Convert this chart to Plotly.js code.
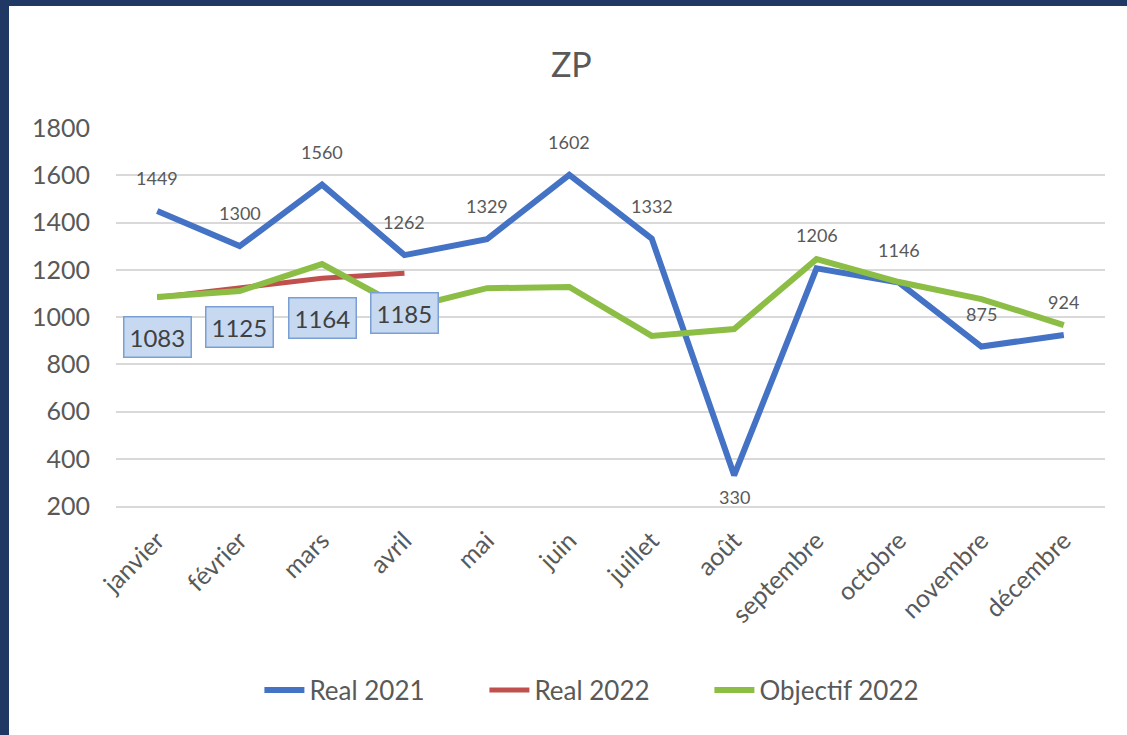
<!DOCTYPE html>
<html>
<head>
<meta charset="utf-8">
<script src="https://cdn.plot.ly/plotly-3.0.1.min.js"></script>
<style>
html,body{margin:0;padding:0;background:#ffffff;}
#wrap{position:absolute;left:0;top:0;width:1118px;height:729px;border-left:9px solid #1F3864;border-top:6px solid #1F3864;background:#fff;}
#chart{width:1118px;height:729px;}
</style>
</head>
<body>
<div id="wrap"><div id="chart"></div></div>
<script>
const months = ["janvier","février","mars","avril","mai","juin","juillet","août","septembre","octobre","novembre","décembre"];
const real2021 = [1449,1300,1560,1262,1329,1602,1332,330,1206,1146,875,924];
const real2022 = [1083,1125,1164,1185];
const objectif2022 = [1085,1110,1224,1035,1122,1127,920,949,1245,1148,1076,966];
const yTicks = [200,400,600,800,1000,1200,1400,1600,1800];

const FONT = "Lato, 'Open Sans', sans-serif";
const GRAY = "#595959";

const traces = [
  {x: months, y: real2021, name: "Real 2021", type: "scatter", mode: "lines",
   line: {color: "#4472C4", width: 6}},
  {x: months.slice(0, real2022.length), y: real2022, name: "Real 2022", type: "scatter", mode: "lines",
   line: {color: "#C0504D", width: 5}},
  {x: months, y: objectif2022, name: "Objectif 2022", type: "scatter", mode: "lines",
   line: {color: "#8CBD45", width: 6}}
];

const annotations = [];
real2021.forEach((v, i) => {
  annotations.push({x: months[i], y: v, text: String(v), showarrow: false,
    yshift: v < 500 ? -22 : 33, font: {family: FONT, size: 18, color: GRAY}});
});
real2022.forEach((v, i) => {
  annotations.push({x: months[i], y: v, text: String(v), showarrow: false,
    yshift: -40, font: {family: FONT, size: 24, color: "#404040"},
    bgcolor: "#C6D9F1", bordercolor: "#7A9FD4", borderwidth: 1.5, borderpad: 5});
});

const layout = {
  width: 1118, height: 729,
  paper_bgcolor: "#ffffff", plot_bgcolor: "#ffffff",
  margin: {l: 107, r: 22, t: 122, b: 229},
  title: {text: "ZP", font: {family: FONT, size: 34, color: GRAY},
    xref: "container", x: 0.503, xanchor: "center", yref: "container", y: 0.919, yanchor: "middle"},
  xaxis: {type: "category", range: [-0.5, 11.5], showgrid: false, showline: true, linecolor: "#D9D9D9", linewidth: 2,
    ticks: "", tickangle: -45, tickfont: {family: FONT, size: 25, color: GRAY}, ticklabelstandoff: 8},
  yaxis: {range: [200, 1800], tickvals: yTicks, ticktext: yTicks.map(String), showgrid: true,
    gridcolor: "#D9D9D9", gridwidth: 2, zeroline: false, showline: false, ticks: "",
    tickfont: {family: FONT, size: 25, color: GRAY}, ticklabelstandoff: 25},
  showlegend: true,
  legend: {orientation: "h", x: 0.145, xanchor: "left", y: -0.487, yanchor: "middle",
    font: {family: FONT, size: 26, color: GRAY}, itemwidth: 40, entrywidth: 170, entrywidthmode: "pixels",
    traceorder: "normal"},
  annotations: annotations
};

Plotly.newPlot("chart", traces, layout, {displayModeBar: false, staticPlot: true});
</script>
</body>
</html>
